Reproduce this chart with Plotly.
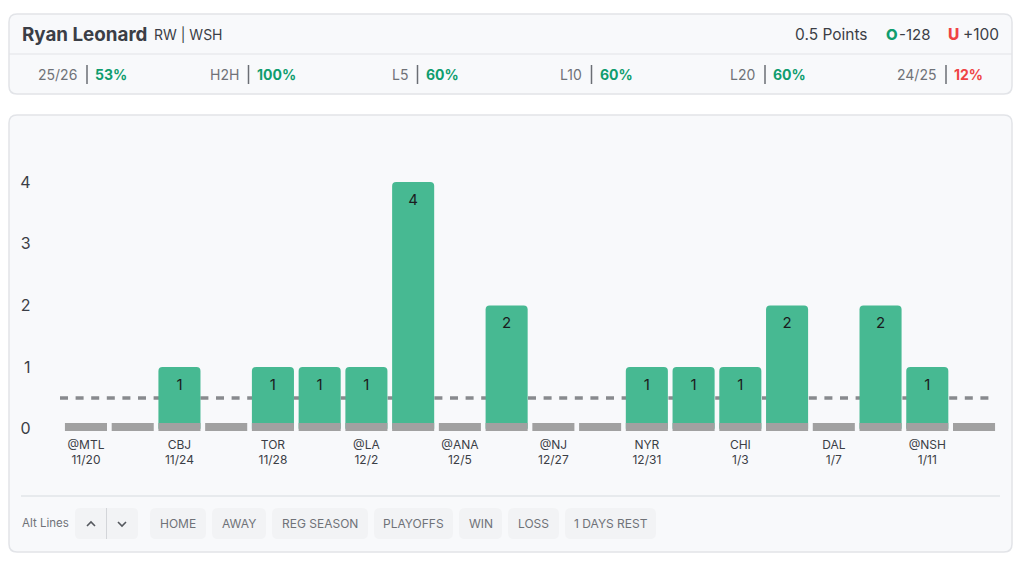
import plotly.graph_objects as go

W, H = 1024, 562

# chart data
games = list(range(20))
points = [0, 0, 1, 0, 1, 1, 1, 4, 0, 2, 0, 0, 1, 1, 1, 2, 0, 2, 1, 0]
tick_games = [0, 2, 4, 6, 8, 10, 12, 14, 16, 18]
opponents = ["@MTL", "CBJ", "TOR", "@LA", "@ANA", "@NJ", "NYR", "CHI", "DAL", "@NSH"]
dates = ["11/20", "11/24", "11/28", "12/2", "12/5", "12/27", "12/31", "1/3", "1/7", "1/11"]
prop_line = 0.5

# header data
stat_labels = ["25/26", "H2H", "L5", "L10", "L20", "24/25"]
stat_values = ["53%", "100%", "60%", "60%", "60%", "12%"]
filter_labels = ["HOME", "AWAY", "REG SEASON", "PLAYOFFS", "WIN", "LOSS", "1 DAYS REST"]

GREEN_BAR = "#47b992"
GREEN_TEXT = "#0f9d6e"
RED = "#ef4444"
GRAY_STUB = "#a1a1a1"
DARK = "#3b3e46"
MID = "#6f7278"
CARD = "#f8f9fb"
BORDER = "#e2e4e8"
BUTTON = "#f2f3f5"
FONT = "Inter"


def px(x):
    return x / W


def py(y):
    return 1 - y / H


def round_rect(x0, y0, x1, y1, r, fill, line=None):
    p = (f"M {px(x0 + r)} {py(y0)} L {px(x1 - r)} {py(y0)} Q {px(x1)} {py(y0)} {px(x1)} {py(y0 + r)} "
         f"L {px(x1)} {py(y1 - r)} Q {px(x1)} {py(y1)} {px(x1 - r)} {py(y1)} "
         f"L {px(x0 + r)} {py(y1)} Q {px(x0)} {py(y1)} {px(x0)} {py(y1 - r)} "
         f"L {px(x0)} {py(y0 + r)} Q {px(x0)} {py(y0)} {px(x0 + r)} {py(y0)} Z")
    return dict(type="path", path=p, xref="paper", yref="paper", fillcolor=fill, layer="below",
                line=dict(color=line or fill, width=1.5 if line else 0))


def hline(x0, x1, y, color, width=1.2, dash="solid"):
    return dict(type="line", xref="paper", yref="paper", x0=px(x0), x1=px(x1), y0=py(y), y1=py(y),
                layer="below", line=dict(color=color, width=width, dash=dash))


def vline(x, y0, y1, color, width=1.5):
    return dict(type="line", xref="paper", yref="paper", x0=px(x), x1=px(x), y0=py(y0), y1=py(y1),
                layer="below", line=dict(color=color, width=width))


def label(x, y, text, size=14, color=DARK, anchor="left", weight=400):
    return dict(x=px(x), y=py(y), xref="paper", yref="paper", text=text, showarrow=False,
                xanchor=anchor, yanchor="middle", font=dict(family=FONT, size=size, color=color, weight=weight))


fig = go.Figure()

fig.add_trace(go.Bar(x=games, y=points, width=0.9, marker=dict(color=GREEN_BAR, cornerradius=4, line_width=0),
                     hoverinfo="skip"))
# gray stub along the bottom of every game
fig.add_trace(go.Bar(x=games, y=[0.135] * len(games), base=-0.04, width=0.9,
                     marker=dict(color=GRAY_STUB, line_width=0), hoverinfo="skip", cliponaxis=False))
# value labels just under the bar tops
fig.add_trace(go.Scatter(x=[g for g, p in zip(games, points) if p > 0],
                         y=[p - 0.31 for p in points if p > 0],
                         text=[str(p) for p in points if p > 0], mode="text", textposition="middle center",
                         textfont=dict(family=FONT, size=15, color="#1b1c20"), hoverinfo="skip"))

shapes = [
    round_rect(9, 14, 1012, 94, 8, CARD, BORDER),
    hline(9, 1012, 54, BORDER),
    round_rect(9, 115, 1012, 552, 8, CARD, BORDER),
    hline(21, 1000, 496, BORDER, 1.5),
    # prop line, sits behind the bars
    dict(type="line", xref="paper", yref="y", x0=px(60), x1=px(992), y0=prop_line, y1=prop_line,
         layer="below", line=dict(color="#888a8e", width=3.5, dash="8px,7.6px")),
]

annotations = [
    label(20, 34, "Ryan Leonard", 18.8, DARK, weight=700),
    label(151.5, 35, "RW | WSH", 14, DARK),
    label(870, 34, "0.5 Points", 15.5, DARK, "right"),
    label(883.5, 34, "O", 15, GREEN_TEXT, weight=800),
    label(932, 34, "-128", 15, DARK, "right"),
    label(946, 34, "U", 15.5, RED, weight=800),
    label(1000.5, 34, "+100", 15.5, DARK, "right"),
    label(20, 523, "Alt Lines", 11.5, MID),
]

# stat strip
stat_seps = [87, 248.5, 417.5, 591.5, 765, 946]
for name, val, sep in zip(stat_labels, stat_values, stat_seps):
    shapes.append(vline(sep, 65, 84, "#6b6e74"))
    annotations.append(label(sep - 8, 75, name, 14, MID, "right"))
    annotations.append(label(sep + 6, 75, val, 14, RED if val == "12%" else GREEN_TEXT, weight=700))

# alt line stepper
shapes.append(round_rect(75, 508, 138, 539, 5, BUTTON))
shapes.append(vline(106.5, 508, 539, "#d3d5d9", 1))
shapes.append(dict(type="path", xref="paper", yref="paper", layer="below", line=dict(color="#55585e", width=1.6),
                   path=f"M {px(87)} {py(526)} L {px(91)} {py(522)} L {px(95)} {py(526)}"))
shapes.append(dict(type="path", xref="paper", yref="paper", layer="below", line=dict(color="#55585e", width=1.6),
                   path=f"M {px(118)} {py(522)} L {px(122)} {py(526)} L {px(126)} {py(522)}"))

# filter buttons
button_edges = [(150, 206), (212, 266), (272, 368), (374, 453), (459, 502), (508, 559), (565, 656)]
for name, (x0, x1) in zip(filter_labels, button_edges):
    shapes.append(round_rect(x0, 508, x1, 539, 6, BUTTON))
    annotations.append(label((x0 + x1) / 2, 523.5, name, 12, MID, "center"))

fig.update_layout(
    width=W, height=H,
    margin=dict(l=0, r=0, t=0, b=0),
    paper_bgcolor="white",
    plot_bgcolor="rgba(0,0,0,0)",
    barmode="overlay",
    showlegend=False,
    shapes=shapes,
    annotations=annotations,
    xaxis=dict(domain=[px(62.6), px(997.4)], range=[-0.5, 19.5], tickmode="array", tickvals=tick_games,
               ticktext=[f"{o}<br>{d}" for o, d in zip(opponents, dates)], showgrid=False, zeroline=False,
               showline=False, ticks="", anchor="free", position=py(435.5), automargin=False,
               tickfont=dict(family=FONT, size=12, color=DARK)),
    yaxis=dict(domain=[py(431), py(131)], range=[-0.0357, 4.8265], tickmode="array", tickvals=[0, 1, 2, 3, 4],
               showgrid=False, zeroline=False, showline=False, ticks="", ticklabelstandoff=31, automargin=False,
               tickfont=dict(family=FONT, size=16, color=DARK)),
)

fig.write_html("out.html", config=dict(displayModeBar=False), post_script="document.body.style.margin='0';")
